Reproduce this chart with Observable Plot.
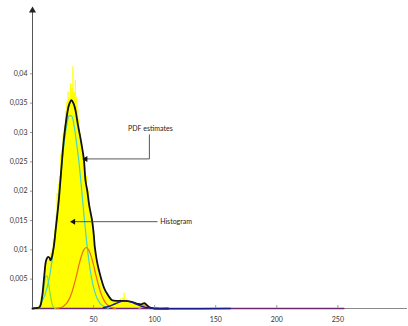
<!DOCTYPE html>
<html>
<head>
<meta charset="utf-8">
<script src="https://cdn.jsdelivr.net/npm/d3@7"></script>
<script src="https://cdn.jsdelivr.net/npm/@observablehq/plot@0.6"></script>
<style>
  html, body { margin: 0; padding: 0; background: #fff; }
  #chart svg { display: block; }
</style>
</head>
<body>
<div id="chart"></div>
<script>
// ---- Data ----
// Histogram: bin start (width 1) and density
const histX = [4,5,6,7,8,9,10,11,12,13,14,15,16,17,18,19,20,21,22,23,24,25,26,27,28,29,30,31,32,33,34,35,36,37,38,39,40,41,42,43,44,45,46,47,48,49,50,51,52,53,54,55,56,57,58,59,60,61,62,63,64,65,66,67,68,69,70,71,72,73,74,75,76,77,78,79,80,81,82,83,84,85,86,87,88,89,90,91,92,93,94,95,96];
const histV = [0.0002,0.0004,0.0008,0.0018,0.0035,0.0052,0.0068,0.0079,0.0085,0.0083,0.0088,0.0094,0.0102,0.0118,0.0135,0.0158,0.0196,0.0212,0.0225,0.0262,0.0271,0.0298,0.0312,0.0335,0.0352,0.0369,0.0358,0.0383,0.0375,0.0412,0.0368,0.0389,0.0360,0.0338,0.0322,0.0298,0.0284,0.0262,0.0250,0.0231,0.0226,0.0205,0.0200,0.0170,0.0155,0.0132,0.0128,0.0104,0.0085,0.0074,0.0060,0.0052,0.0044,0.0036,0.0030,0.0028,0.0022,0.0026,0.0018,0.0016,0.0014,0.0012,0.0015,0.0011,0.0013,0.0012,0.0014,0.0013,0.0016,0.0012,0.0018,0.0026,0.0014,0.0016,0.0012,0.0013,0.0010,0.0011,0.0008,0.0009,0.0007,0.0008,0.0006,0.0007,0.0006,0.0008,0.0009,0.0008,0.0007,0.0005,0.0003,0.0002,0.0001];

// Overall PDF estimate (black)
const pdfX = [0,4,6,8,9,10,10.6,11.5,12.8,14,14.7,15.5,17.4,19,21.5,23.5,25.6,28.4,30,31.9,33.5,35.2,37,39.3,42,43.4,44.8,46.5,48.8,50.2,51,52.9,55,57,59,61.1,63,65.2,70,76,82,86,89,91.5,93,95,97,100,111];
const pdfV = [0,0.0001,0.0003,0.0022,0.0042,0.0064,0.0076,0.0084,0.0088,0.0086,0.0082,0.0085,0.0105,0.0135,0.0184,0.0235,0.0287,0.0332,0.0348,0.0355,0.0350,0.0338,0.0315,0.0290,0.0255,0.0218,0.0201,0.0175,0.0150,0.0125,0.0105,0.0079,0.0060,0.0045,0.0033,0.0025,0.0019,0.0014,0.0013,0.0013,0.0011,0.0008,0.0007,0.0009,0.0007,0.0003,0.0001,0,0];

// Mixture components
const greenX = [5,6,7,8,9,10,11,12,13,14,15,16,17,18,19];
const greenV = [0,0.0003,0.0008,0.0018,0.0031,0.0045,0.0055,0.0055,0.0045,0.0031,0.0018,0.0008,0.0003,0.0001,0];
const cyanX = [6,8,10,12,14,16,18,20,22,24,26,28,30,32,34,36,38,40,42,44,46,48,50,52,54,56,58,60,62];
const cyanV = [0.0002,0.0013,0.0022,0.0036,0.0055,0.0082,0.0116,0.0156,0.0200,0.0244,0.0283,0.0312,0.0328,0.0328,0.0312,0.0283,0.0250,0.0208,0.0162,0.0120,0.0084,0.0056,0.0036,0.0022,0.0013,0.0007,0.0004,0.0002,0];
const orangeX = [20,22,24,26,28,30,32,34,36,38,40,42,44,46,48,50,52,54,56,58,60,62,64,66,68];
const orangeV = [0,0.0001,0.0002,0.0005,0.0009,0.0016,0.0026,0.0040,0.0056,0.0074,0.0089,0.0100,0.0104,0.0100,0.0089,0.0074,0.0056,0.0040,0.0026,0.0016,0.0009,0.0005,0.0002,0.0001,0];
const navyX = [58,62,66,70,74,76,78,82,86,90,94,98,100,162];
const navyV = [0.00014,0.00034,0.00065,0.00101,0.00126,0.0013,0.00126,0.00101,0.00065,0.00034,0.00014,0.00005,0,0];
const pinkX = [87,89,90,91,92,93,94,95,97];
const pinkV = [0,0.0001,0.0003,0.0005,0.0006,0.0005,0.0003,0.0001,0];
const purpleX = [0,255];
const purpleV = [0,0];

// Axes
const xMax = 307;
const yMax = 0.0508;
const xTicks = [50,100,150,200,250];
const yTicks = [0.005,0.01,0.015,0.02,0.025,0.03,0.035,0.04];
const yTickLabels = ["0,005","0,01","0,015","0,02","0,025","0,03","0,035","0,04"];

// Annotations (data units)
const pdfNoteText = "PDF estimates";
const pdfNoteX = 96.5, pdfNoteY = 0.0307;
const pdfLeaderX = [95.7, 95.7, 43.5];
const pdfLeaderY = [0.0296, 0.0255, 0.0255];
const histNoteText = "Histogram";
const histNoteX = 104.5, histNoteY = 0.0148;
const histLeaderX = [102, 33.5];
const histLeaderY = [0.0148, 0.0148];

// ---- Build tables ----
const hist = histX.map((x, i) => ({x, v: histV[i]}));
hist.push({x: histX[histX.length - 1] + 1, v: 0}); // close the last step
const series = (xs, vs) => xs.map((x, i) => ({x, y: vs[i]}));
const pdf = series(pdfX, pdfV);
const green = series(greenX, greenV);
const cyan = series(cyanX, cyanV);
const orange = series(orangeX, orangeV);
const navy = series(navyX, navyV);
const pink = series(pinkX, pinkV);
const purple = series(purpleX, purpleV);
const pdfLeader = series(pdfLeaderX, pdfLeaderY);
const histLeader = series(histLeaderX, histLeaderY);

const chart = Plot.plot({
  width: 408,
  height: 326,
  marginLeft: 32,
  marginRight: 1,
  marginTop: 10,
  marginBottom: 18,
  x: {domain: [0, xMax], label: null},
  y: {domain: [0, yMax], label: null},
  style: {fontFamily: "Lato, 'Open Sans', sans-serif", fontSize: "7px", background: "#fff", color: "#333"},
  marks: [
    // histogram (step area, no seams)
    Plot.areaY(hist, {x: "x", y: "v", fill: "#ffff00", curve: "step-after"}),
    // x axis line
    Plot.ruleY([0], {stroke: "#8a8a8a", strokeWidth: 1}),
    // components
    Plot.line(purple, {x: "x", y: "y", stroke: "#6b2a6b", strokeWidth: 1.3}),
    Plot.line(green, {x: "x", y: "y", stroke: "#7fe22a", strokeWidth: 1.2, curve: "catmull-rom"}),
    Plot.line(cyan, {x: "x", y: "y", stroke: "#48d6c4", strokeWidth: 1.2, curve: "catmull-rom"}),
    Plot.line(orange, {x: "x", y: "y", stroke: "#f26a1b", strokeWidth: 1.2, curve: "catmull-rom"}),
    Plot.line(pink, {x: "x", y: "y", stroke: "#d878b8", strokeWidth: 1.2, curve: "catmull-rom"}),
    // overall PDF
    Plot.line(pdf, {x: "x", y: "y", stroke: "#111", strokeWidth: 1.8, curve: "catmull-rom"}),
    Plot.line(navy, {x: "x", y: "y", stroke: "#1c1c86", strokeWidth: 1.4, curve: "catmull-rom"}),
    // y axis line with arrow
    Plot.ruleX([0], {y1: 0, y2: yMax, stroke: "#555", strokeWidth: 1}),
    Plot.dot([0], {x: 0, y: yMax, symbol: "triangle", r: 2.6, fill: "#222", stroke: "none"}),
    // axes
    Plot.axisY({ticks: yTicks, tickSize: 2, tickPadding: 3, stroke: "#999", tickFormat: (d, i) => yTickLabels[i], fill: "#333", label: null}),
    Plot.axisX({ticks: xTicks, tickSize: -3, stroke: "#999", text: null, label: null}),
    Plot.axisX({ticks: xTicks, tickSize: 0, tickPadding: 9, tickFormat: d => String(d), fill: "#333", label: null}),
    // annotations
    Plot.line(pdfLeader, {x: "x", y: "y", stroke: "#444", strokeWidth: 0.9}),
    Plot.dot([0], {x: pdfLeaderX[2], y: pdfLeaderY[2], symbol: "triangle", rotate: -90, r: 2.2, fill: "#111", stroke: "none"}),
    Plot.text([pdfNoteText], {x: pdfNoteX, y: pdfNoteY, text: d => d, fill: "#222", textAnchor: "middle"}),
    Plot.line(histLeader, {x: "x", y: "y", stroke: "#444", strokeWidth: 0.9}),
    Plot.dot([0], {x: histLeaderX[1], y: histLeaderY[1], symbol: "triangle", rotate: -90, r: 2.2, fill: "#111", stroke: "none"}),
    Plot.text([histNoteText], {x: histNoteX, y: histNoteY, text: d => d, fill: "#222", textAnchor: "start"})
  ]
});
document.getElementById("chart").appendChild(chart);
</script>
</body>
</html>
